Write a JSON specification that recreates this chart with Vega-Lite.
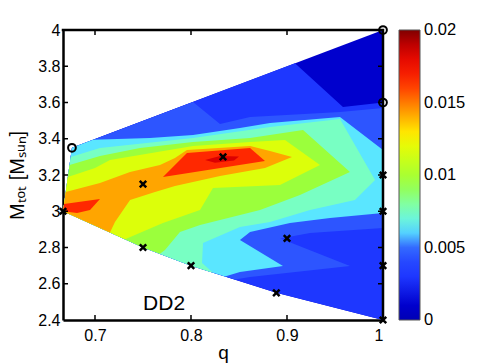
{
  "$schema": "https://vega.github.io/schema/vega-lite/v6.json",
  "width": 320,
  "height": 290,
  "autosize": "none",
  "padding": {"left": 63, "top": 30, "right": 102, "bottom": 44},
  "background": "white",
  "config": {
    "view": {"stroke": null},
    "font": "Liberation Sans",
    "axis": {"grid": false, "labelFont": "Liberation Sans", "titleFont": "Liberation Sans", "labelColor": "black", "titleColor": "black", "titleFontWeight": "normal", "domainColor": "black", "domainWidth": 2.5, "ticks": false, "labelFontSize": 16, "titleFontSize": 20, "zindex": 1},
    "legend": {"labelFont": "Liberation Sans", "labelColor": "black"}
  },
  "datasets": {
    "poly": [
      {"poly":"p0","lev":0,"v":0.001,"i":1,"q":0.676,"M":3.35},
      {"poly":"p0","lev":0,"v":0.001,"i":2,"q":1,"M":4},
      {"poly":"p0","lev":0,"v":0.001,"i":3,"q":1,"M":2.4},
      {"poly":"p0","lev":0,"v":0.001,"i":4,"q":0.8889,"M":2.55},
      {"poly":"p0","lev":0,"v":0.001,"i":5,"q":0.8,"M":2.7},
      {"poly":"p0","lev":0,"v":0.001,"i":6,"q":0.75,"M":2.8},
      {"poly":"p0","lev":0,"v":0.001,"i":7,"q":0.6667,"M":3.0},

      {"poly":"p1","lev":1,"v":0.003,"i":1,"q":0.676,"M":3.35},
      {"poly":"p1","lev":1,"v":0.003,"i":2,"q":0.9083,"M":3.816},
      {"poly":"p1","lev":1,"v":0.003,"i":3,"q":0.9583,"M":3.575},
      {"poly":"p1","lev":1,"v":0.003,"i":4,"q":1,"M":3.6},
      {"poly":"p1","lev":1,"v":0.003,"i":5,"q":1,"M":2.4},
      {"poly":"p1","lev":1,"v":0.003,"i":6,"q":0.8889,"M":2.55},
      {"poly":"p1","lev":1,"v":0.003,"i":7,"q":0.8,"M":2.7},
      {"poly":"p1","lev":1,"v":0.003,"i":8,"q":0.75,"M":2.8},
      {"poly":"p1","lev":1,"v":0.003,"i":9,"q":0.6667,"M":3.0},

      {"poly":"p2","lev":2,"v":0.0048,"i":1,"q":0.676,"M":3.35},
      {"poly":"p2","lev":2,"v":0.0048,"i":2,"q":0.8021,"M":3.603},
      {"poly":"p2","lev":2,"v":0.0048,"i":3,"q":0.8302,"M":3.481},
      {"poly":"p2","lev":2,"v":0.0048,"i":4,"q":0.8615,"M":3.52},
      {"poly":"p2","lev":2,"v":0.0048,"i":5,"q":0.9552,"M":3.548},
      {"poly":"p2","lev":2,"v":0.0048,"i":6,"q":1,"M":3.57},
      {"poly":"p2","lev":2,"v":0.0048,"i":7,"q":1,"M":2.908},
      {"poly":"p2","lev":2,"v":0.0048,"i":8,"q":0.924,"M":2.88},
      {"poly":"p2","lev":2,"v":0.0048,"i":9,"q":0.893,"M":2.85},
      {"poly":"p2","lev":2,"v":0.0048,"i":10,"q":0.9656,"M":2.698},
      {"poly":"p2","lev":2,"v":0.0048,"i":11,"q":0.8615,"M":2.637},
      {"poly":"p2","lev":2,"v":0.0048,"i":12,"q":0.8458,"M":2.623},
      {"poly":"p2","lev":2,"v":0.0048,"i":13,"q":0.8,"M":2.7},
      {"poly":"p2","lev":2,"v":0.0048,"i":14,"q":0.75,"M":2.8},
      {"poly":"p2","lev":2,"v":0.0048,"i":15,"q":0.6667,"M":3.0},

      {"poly":"p3","lev":3,"v":0.0062,"i":1,"q":0.676,"M":3.35},
      {"poly":"p3","lev":3,"v":0.0062,"i":2,"q":0.6979,"M":3.394},
      {"poly":"p3","lev":3,"v":0.0062,"i":3,"q":0.7573,"M":3.404},
      {"poly":"p3","lev":3,"v":0.0062,"i":4,"q":0.8021,"M":3.421},
      {"poly":"p3","lev":3,"v":0.0062,"i":5,"q":0.851,"M":3.459},
      {"poly":"p3","lev":3,"v":0.0062,"i":6,"q":0.8823,"M":3.487},
      {"poly":"p3","lev":3,"v":0.0062,"i":7,"q":0.9552,"M":3.52},
      {"poly":"p3","lev":3,"v":0.0062,"i":8,"q":1,"M":3.338},
      {"poly":"p3","lev":3,"v":0.0062,"i":9,"q":1,"M":2.99},
      {"poly":"p3","lev":3,"v":0.0062,"i":10,"q":0.9448,"M":2.963},
      {"poly":"p3","lev":3,"v":0.0062,"i":11,"q":0.9031,"M":2.935},
      {"poly":"p3","lev":3,"v":0.0062,"i":12,"q":0.8615,"M":2.886},
      {"poly":"p3","lev":3,"v":0.0062,"i":13,"q":0.851,"M":2.841},
      {"poly":"p3","lev":3,"v":0.0062,"i":14,"q":0.8958,"M":2.698},
      {"poly":"p3","lev":3,"v":0.0062,"i":15,"q":0.851,"M":2.665},
      {"poly":"p3","lev":3,"v":0.0062,"i":16,"q":0.8354,"M":2.64},
      {"poly":"p3","lev":3,"v":0.0062,"i":17,"q":0.8,"M":2.7},
      {"poly":"p3","lev":3,"v":0.0062,"i":18,"q":0.75,"M":2.8},
      {"poly":"p3","lev":3,"v":0.0062,"i":19,"q":0.6667,"M":3.0},

      {"poly":"p4","lev":4,"v":0.0075,"i":1,"q":0.6747,"M":3.299},
      {"poly":"p4","lev":4,"v":0.0075,"i":2,"q":0.7052,"M":3.349},
      {"poly":"p4","lev":4,"v":0.0075,"i":3,"q":0.8021,"M":3.404},
      {"poly":"p4","lev":4,"v":0.0075,"i":4,"q":0.8823,"M":3.465},
      {"poly":"p4","lev":4,"v":0.0075,"i":5,"q":0.9552,"M":3.509},
      {"poly":"p4","lev":4,"v":0.0075,"i":6,"q":0.9917,"M":3.172},
      {"poly":"p4","lev":4,"v":0.0075,"i":7,"q":0.9708,"M":3.062},
      {"poly":"p4","lev":4,"v":0.0075,"i":8,"q":0.924,"M":3.007},
      {"poly":"p4","lev":4,"v":0.0075,"i":9,"q":0.8823,"M":2.941},
      {"poly":"p4","lev":4,"v":0.0075,"i":10,"q":0.851,"M":2.913},
      {"poly":"p4","lev":4,"v":0.0075,"i":11,"q":0.8125,"M":2.825},
      {"poly":"p4","lev":4,"v":0.0075,"i":12,"q":0.8115,"M":2.714},
      {"poly":"p4","lev":4,"v":0.0075,"i":13,"q":0.8229,"M":2.661},
      {"poly":"p4","lev":4,"v":0.0075,"i":14,"q":0.8,"M":2.7},
      {"poly":"p4","lev":4,"v":0.0075,"i":15,"q":0.75,"M":2.8},
      {"poly":"p4","lev":4,"v":0.0075,"i":16,"q":0.6667,"M":3.0},

      {"poly":"p5","lev":5,"v":0.0095,"i":1,"q":0.6735,"M":3.255},
      {"poly":"p5","lev":5,"v":0.0095,"i":2,"q":0.7052,"M":3.305},
      {"poly":"p5","lev":5,"v":0.0095,"i":3,"q":0.7469,"M":3.349},
      {"poly":"p5","lev":5,"v":0.0095,"i":4,"q":0.8021,"M":3.382},
      {"poly":"p5","lev":5,"v":0.0095,"i":5,"q":0.8615,"M":3.404},
      {"poly":"p5","lev":5,"v":0.0095,"i":6,"q":0.9167,"M":3.448},
      {"poly":"p5","lev":5,"v":0.0095,"i":7,"q":0.9656,"M":3.217},
      {"poly":"p5","lev":5,"v":0.0095,"i":8,"q":0.9135,"M":3.09},
      {"poly":"p5","lev":5,"v":0.0095,"i":9,"q":0.8719,"M":3.007},
      {"poly":"p5","lev":5,"v":0.0095,"i":10,"q":0.8094,"M":2.924},
      {"poly":"p5","lev":5,"v":0.0095,"i":11,"q":0.7885,"M":2.886},
      {"poly":"p5","lev":5,"v":0.0095,"i":12,"q":0.7729,"M":2.786},
      {"poly":"p5","lev":5,"v":0.0095,"i":13,"q":0.7677,"M":2.765},
      {"poly":"p5","lev":5,"v":0.0095,"i":14,"q":0.75,"M":2.8},
      {"poly":"p5","lev":5,"v":0.0095,"i":15,"q":0.6667,"M":3.0},

      {"poly":"p6","lev":6,"v":0.0117,"i":1,"q":0.6717,"M":3.189},
      {"poly":"p6","lev":6,"v":0.0117,"i":2,"q":0.7,"M":3.239},
      {"poly":"p6","lev":6,"v":0.0117,"i":3,"q":0.7156,"M":3.283},
      {"poly":"p6","lev":6,"v":0.0117,"i":4,"q":0.8021,"M":3.36},
      {"poly":"p6","lev":6,"v":0.0117,"i":5,"q":0.8615,"M":3.382},
      {"poly":"p6","lev":6,"v":0.0117,"i":6,"q":0.8979,"M":3.393},
      {"poly":"p6","lev":6,"v":0.0117,"i":7,"q":0.9344,"M":3.255},
      {"poly":"p6","lev":6,"v":0.0117,"i":8,"q":0.8927,"M":3.145},
      {"poly":"p6","lev":6,"v":0.0117,"i":9,"q":0.8229,"M":3.128},
      {"poly":"p6","lev":6,"v":0.0117,"i":10,"q":0.8094,"M":3.007},
      {"poly":"p6","lev":6,"v":0.0117,"i":11,"q":0.7708,"M":2.935},
      {"poly":"p6","lev":6,"v":0.0117,"i":12,"q":0.7313,"M":2.845},
      {"poly":"p6","lev":6,"v":0.0117,"i":13,"q":0.6667,"M":3.0},

      {"poly":"p7","lev":7,"v":0.0142,"i":1,"q":0.6695,"M":3.106},
      {"poly":"p7","lev":7,"v":0.0142,"i":2,"q":0.7052,"M":3.156},
      {"poly":"p7","lev":7,"v":0.0142,"i":3,"q":0.7365,"M":3.217},
      {"poly":"p7","lev":7,"v":0.0142,"i":4,"q":0.7677,"M":3.255},
      {"poly":"p7","lev":7,"v":0.0142,"i":5,"q":0.7833,"M":3.294},
      {"poly":"p7","lev":7,"v":0.0142,"i":6,"q":0.7958,"M":3.338},
      {"poly":"p7","lev":7,"v":0.0142,"i":7,"q":0.8615,"M":3.36},
      {"poly":"p7","lev":7,"v":0.0142,"i":8,"q":0.8823,"M":3.332},
      {"poly":"p7","lev":7,"v":0.0142,"i":9,"q":0.9052,"M":3.299},
      {"poly":"p7","lev":7,"v":0.0142,"i":10,"q":0.8771,"M":3.239},
      {"poly":"p7","lev":7,"v":0.0142,"i":11,"q":0.8302,"M":3.194},
      {"poly":"p7","lev":7,"v":0.0142,"i":12,"q":0.7833,"M":3.139},
      {"poly":"p7","lev":7,"v":0.0142,"i":13,"q":0.7625,"M":3.106},
      {"poly":"p7","lev":7,"v":0.0142,"i":14,"q":0.7365,"M":3.062},
      {"poly":"p7","lev":7,"v":0.0142,"i":15,"q":0.7208,"M":2.941},
      {"poly":"p7","lev":7,"v":0.0142,"i":16,"q":0.7156,"M":2.883},
      {"poly":"p7","lev":7,"v":0.0142,"i":17,"q":0.6667,"M":3.0},

      {"poly":"p8a","lev":8,"v":0.0165,"i":1,"q":0.6678,"M":3.04},
      {"poly":"p8a","lev":8,"v":0.0165,"i":2,"q":0.7052,"M":3.068},
      {"poly":"p8a","lev":8,"v":0.0165,"i":3,"q":0.6948,"M":3.007},
      {"poly":"p8a","lev":8,"v":0.0165,"i":4,"q":0.6813,"M":2.99},
      {"poly":"p8a","lev":8,"v":0.0165,"i":5,"q":0.6667,"M":3.0},

      {"poly":"p8b","lev":8,"v":0.0165,"i":1,"q":0.7708,"M":3.189},
      {"poly":"p8b","lev":8,"v":0.0165,"i":2,"q":0.7958,"M":3.321},
      {"poly":"p8b","lev":8,"v":0.0165,"i":3,"q":0.8615,"M":3.349},
      {"poly":"p8b","lev":8,"v":0.0165,"i":4,"q":0.8771,"M":3.277},

      {"poly":"p9","lev":9,"v":0.0185,"i":1,"q":0.8146,"M":3.283},
      {"poly":"p9","lev":9,"v":0.0185,"i":2,"q":0.8302,"M":3.305},
      {"poly":"p9","lev":9,"v":0.0185,"i":3,"q":0.85,"M":3.302},
      {"poly":"p9","lev":9,"v":0.0185,"i":4,"q":0.8448,"M":3.28},
      {"poly":"p9","lev":9,"v":0.0185,"i":5,"q":0.825,"M":3.268}
    ],
    "frame": [
      {"q": 0.66667, "M": 4, "i": 1},
      {"q": 1, "M": 4, "i": 2},
      {"q": 1, "M": 2.4, "i": 3}
    ],
    "tk": [
      {"q":1,"q2":0.99479,"M":2.6,"M2":2.6},
      {"q":1,"q2":0.99479,"M":2.8,"M2":2.8},
      {"q":1,"q2":0.99479,"M":3.0,"M2":3.0},
      {"q":1,"q2":0.99479,"M":3.2,"M2":3.2},
      {"q":1,"q2":0.99479,"M":3.4,"M2":3.4},
      {"q":1,"q2":0.99479,"M":3.6,"M2":3.6},
      {"q":1,"q2":0.99479,"M":3.8,"M2":3.8},
      {"q":0.66667,"q2":0.67188,"M":2.6,"M2":2.6},
      {"q":0.66667,"q2":0.67188,"M":2.8,"M2":2.8},
      {"q":0.66667,"q2":0.67188,"M":3.0,"M2":3.0},
      {"q":0.66667,"q2":0.67188,"M":3.2,"M2":3.2},
      {"q":0.66667,"q2":0.67188,"M":3.4,"M2":3.4},
      {"q":0.66667,"q2":0.67188,"M":3.6,"M2":3.6},
      {"q":0.66667,"q2":0.67188,"M":3.8,"M2":3.8},
      {"q":0.7,"q2":0.7,"M":4,"M2":3.9724},
      {"q":0.8,"q2":0.8,"M":4,"M2":3.9724},
      {"q":0.9,"q2":0.9,"M":4,"M2":3.9724},
      {"q":0.7,"q2":0.7,"M":2.4,"M2":2.4276},
      {"q":0.8,"q2":0.8,"M":2.4,"M2":2.4276},
      {"q":0.9,"q2":0.9,"M":2.4,"M2":2.4276}
    ],
    "pts": [
      {"kind":"x","q":0.66667,"M":3.0},
      {"kind":"x","q":0.75,"M":3.15},
      {"kind":"x","q":0.75,"M":2.8},
      {"kind":"x","q":0.8,"M":2.7},
      {"kind":"x","q":0.83333,"M":3.3},
      {"kind":"x","q":0.9,"M":2.85},
      {"kind":"x","q":0.88889,"M":2.55},
      {"kind":"x","q":1,"M":3.2},
      {"kind":"x","q":1,"M":3.0},
      {"kind":"x","q":1,"M":2.7},
      {"kind":"x","q":1,"M":2.4},
      {"kind":"o","q":0.676,"M":3.35},
      {"kind":"o","q":1,"M":4},
      {"kind":"o","q":1,"M":3.6}
    ],
    "lbl": [
      {"label":"DD2","q":0.772,"M":2.488}
    ]
  },
  "encoding": {
    "x": {"field": "q", "type": "quantitative", "title": "q",
      "scale": {"domain": [0.66667, 1], "nice": false, "zero": false},
      "axis": {"values": [0.7, 0.8, 0.9, 1], "format": "~g", "labelPadding": 7, "titlePadding": 0, "titleFontSize": 19}},
    "y": {"field": "M", "type": "quantitative", "title": "Mₜₒₜ [Mₛᵤₙ]",
      "scale": {"domain": [2.4, 4], "nice": false, "zero": false},
      "axis": {"values": [2.4, 2.6, 2.8, 3, 3.2, 3.4, 3.6, 3.8, 4], "format": "~g", "labelPadding": 3, "titlePadding": 10}}
  },
  "layer": [
    {
      "data": {"name": "poly"},
      "encoding": {
        "fill": {"field": "v", "type": "quantitative",
          "scale": {"type": "linear", "interpolate": "rgb", "nice": false, "zero": false,
            "domain": [0, 0.001, 0.003, 0.0048, 0.0062, 0.0075, 0.0095, 0.0117, 0.0128, 0.0142, 0.0165, 0.0185, 0.02],
            "range": ["#0000B4", "#0000CD", "#1E37FF", "#2D55FF", "#5AE6FF", "#78FFC3", "#9BFF3C", "#DCFF0A", "#FFF000", "#FFA500", "#FF2800", "#DC0000", "#800000"]},
          "legend": {"title": null, "orient": "right", "offset": 16, "padding": 0, "direction": "vertical",
            "gradientLength": 290, "gradientThickness": 21, "values": [0.0000001, 0.005, 0.01, 0.015, 0.0199999],
            "labelExpr": "datum.value < 0.001 ? '0' : datum.value > 0.019 ? '0.02' : format(datum.value, '~g')",
            "labelFontSize": 16.5, "labelOffset": 4, "labelOverlap": false,
            "gradientStrokeColor": "#555", "gradientStrokeWidth": 1}},
        "order": {"field": "i", "type": "quantitative"},
        "detail": {"field": "poly", "type": "nominal"}
      },
      "layer": [
        {"transform": [{"filter": "datum.lev == 0"}], "mark": {"type": "line", "strokeWidth": 0}},
        {"transform": [{"filter": "datum.lev == 1"}], "mark": {"type": "line", "strokeWidth": 0}},
        {"transform": [{"filter": "datum.lev == 2"}], "mark": {"type": "line", "strokeWidth": 0}},
        {"transform": [{"filter": "datum.lev == 3"}], "mark": {"type": "line", "strokeWidth": 0}},
        {"transform": [{"filter": "datum.lev == 4"}], "mark": {"type": "line", "strokeWidth": 0}},
        {"transform": [{"filter": "datum.lev == 5"}], "mark": {"type": "line", "strokeWidth": 0}},
        {"transform": [{"filter": "datum.lev == 6"}], "mark": {"type": "line", "strokeWidth": 0}},
        {"transform": [{"filter": "datum.lev == 7"}], "mark": {"type": "line", "strokeWidth": 0}},
        {"transform": [{"filter": "datum.lev == 8"}], "mark": {"type": "line", "strokeWidth": 0}},
        {"transform": [{"filter": "datum.lev == 9"}], "mark": {"type": "line", "strokeWidth": 0}}
      ]
    },
    {
      "data": {"name": "frame"},
      "mark": {"type": "line", "stroke": "black", "strokeWidth": 2.5, "strokeCap": "square"},
      "encoding": {"order": {"field": "i", "type": "quantitative"}}
    },
    {
      "data": {"name": "tk"},
      "mark": {"type": "rule", "stroke": "black", "strokeWidth": 1.5},
      "encoding": {"x2": {"field": "q2"}, "y2": {"field": "M2"}}
    },
    {
      "data": {"name": "pts"},
      "transform": [{"filter": "datum.kind == 'x'"}],
      "mark": {"type": "point", "shape": "M-1,-1L1,1M-1,1L1,-1", "filled": false, "stroke": "black", "strokeWidth": 2.5, "size": 42, "opacity": 1}
    },
    {
      "data": {"name": "pts"},
      "transform": [{"filter": "datum.kind == 'o'"}],
      "mark": {"type": "point", "shape": "circle", "filled": false, "stroke": "black", "strokeWidth": 2, "size": 60, "opacity": 1}
    },
    {
      "data": {"name": "lbl"},
      "mark": {"type": "text", "fontSize": 21, "align": "center", "baseline": "middle", "color": "black", "font": "Liberation Sans"},
      "encoding": {"text": {"field": "label"}}
    }
  ]
}
